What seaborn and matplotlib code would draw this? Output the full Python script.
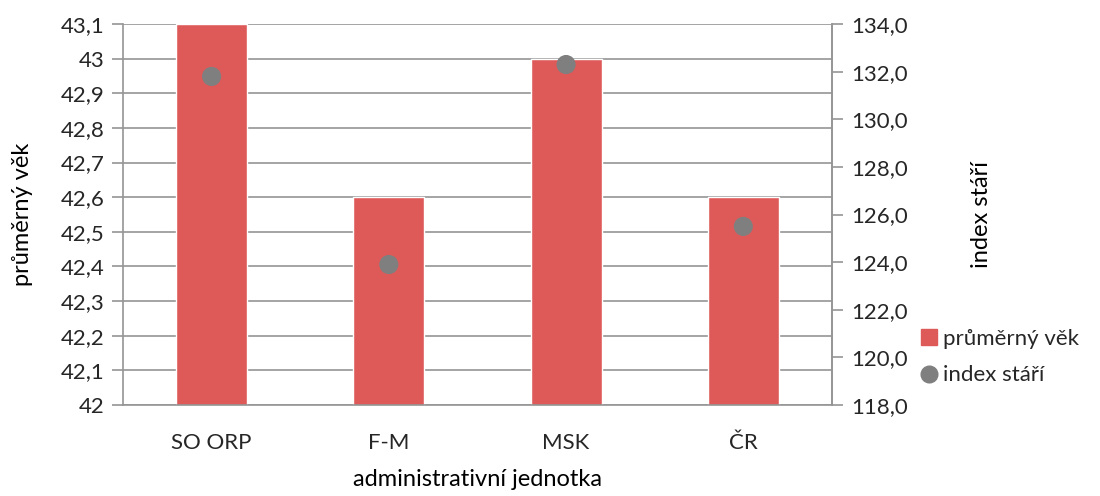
import numpy as np
import matplotlib
matplotlib.use('Agg')
import matplotlib.pyplot as plt
import matplotlib.ticker as mticker
from matplotlib.lines import Line2D
import seaborn as sns

# data
jednotky = ['SO ORP', 'F-M', 'MSK', 'ČR']
prumerny_vek = [43.1, 42.6, 43.0, 42.6]
index_stari = [131.8, 123.9, 132.3, 125.5]

bar_color = '#DE5A59'
dot_color = '#7F7F7F'
grid_color = '#959595'
text_color = '#262626'

sns.set_style('white')
plt.rcParams['font.family'] = ['Lato', 'DejaVu Sans']

fig = plt.figure(figsize=(11, 4.96), dpi=100)
ax = fig.add_axes([0.1118, 0.1835, 0.6445, 0.768])

sns.barplot(x=jednotky, y=prumerny_vek, color=bar_color, width=0.4,
            saturation=1, ax=ax)
ax.set_ylim(42, 43.1)
ax.set_xlim(-0.5, len(jednotky) - 0.5)
ax.yaxis.set_major_locator(mticker.MultipleLocator(0.1))
ax.yaxis.set_major_formatter(mticker.FuncFormatter(
    lambda v, p: ('%g' % round(v, 1)).replace('.', ',')))
ax.grid(axis='y', color=grid_color, lw=1.2)
ax.set_axisbelow(True)

# x ticks at category boundaries
ax.set_xticks(np.arange(len(jednotky)))
ax.set_xticklabels(jednotky)
ax.set_xticks(np.arange(len(jednotky) + 1) - 0.5, minor=True)
ax.tick_params(axis='x', which='major', length=0, pad=20, labelsize=16,
               labelcolor=text_color)
ax.tick_params(axis='x', which='minor', length=8, color=grid_color, width=1.2)
ax.tick_params(axis='y', length=8, color=grid_color, width=1.2, labelsize=16,
               labelcolor=text_color, pad=5, left=True)

for s in ax.spines.values():
    s.set_color(grid_color)
    s.set_linewidth(1.2)
ax.spines['top'].set_visible(False)

ax.set_xlabel('administrativní jednotka', fontsize=17, color='black',
              labelpad=12)
ax.set_ylabel('průměrný věk', fontsize=17, color='black', labelpad=20)

ax2 = ax.twinx()
sns.scatterplot(x=np.arange(len(jednotky)), y=index_stari, color=dot_color,
                s=190, edgecolor='none', ax=ax2, zorder=5)
ax2.set_ylim(118, 134)
ax2.yaxis.set_major_locator(mticker.MultipleLocator(2))
ax2.yaxis.set_major_formatter(mticker.FuncFormatter(
    lambda v, p: ('%.1f' % v).replace('.', ',')))
ax2.tick_params(axis='y', length=8, color=grid_color, width=1.2, labelsize=16,
                labelcolor=text_color, pad=6, right=True)
for s in ax2.spines.values():
    s.set_visible(False)
ax2.spines['right'].set_visible(True)
ax2.spines['right'].set_color(grid_color)
ax2.spines['right'].set_linewidth(1.2)
ax2.set_ylabel('index stáří', fontsize=17, color='black', labelpad=45)

handles = [
    Line2D([], [], marker='s', ls='', color=bar_color, markersize=12),
    Line2D([], [], marker='o', ls='', color=dot_color, markersize=12),
]
fig.legend(handles, ['průměrný věk', 'index stáří'], loc='center left',
           bbox_to_anchor=(0.82, 0.28), frameon=False, fontsize=16,
           handlelength=0.6, handletextpad=0.35, labelspacing=0.75,
           labelcolor=text_color)

fig.savefig('out.png', dpi=100)
